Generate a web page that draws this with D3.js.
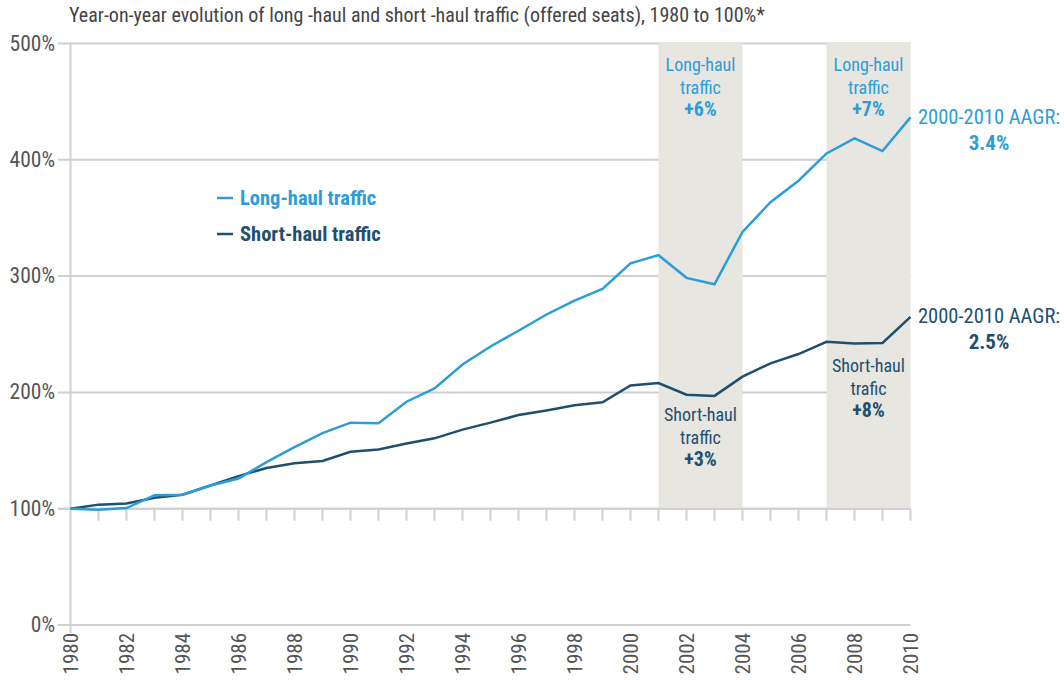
<!DOCTYPE html>
<html>
<head>
  <meta charset="utf-8">
  <title>Long-haul and short-haul traffic</title>
  <style>
    body { margin: 0; background: #fff; }
    svg text { font-family: "Liberation Sans Narrow", "Arial Narrow", "Roboto", sans-serif; font-stretch: condensed; }
  </style>
</head>
<body>
<script src="https://cdnjs.cloudflare.com/ajax/libs/d3/7.8.5/d3.min.js"></script>
<div id="vis"></div>
<script>

var years = d3.range(1980, 2011)
var longHaul = [100, 99, 100.5, 111.5, 112, 120, 126, 140, 153, 165, 174, 173.5, 192,
  203.5, 224, 239.5, 253, 267, 279, 289, 311, 318, 298.5, 293, 338, 363.5, 382, 405.5, 418.5, 407.5, 436.5]
var shortHaul = [100, 103.5, 104.5, 109.5, 112, 120, 128, 135, 139, 141, 149, 151, 156,
  160.5, 168, 174, 180.5, 184.5, 189, 191.5, 206, 208, 198, 197, 213.5, 225, 233, 243.5, 242, 242.5, 265]
var yTicks = [0, 100, 200, 300, 400, 500]
var yearTicks = d3.range(1980, 2011, 2)
var bands = [[2001, 2004], [2007, 2010]]

var lightBlue = "#2d9dd7", darkBlue = "#1e4f6e"

var w = 1064, h = 680
var svg = d3.select("#vis").append("svg").attr("width", w).attr("height", h)

var x = d3.scaleLinear().domain([1980, 2010]).range([70.5, 910.5])
var y = d3.scaleLinear().domain([0, 500]).range([625, 43.5])

svg.append("text").attr("x", 69).attr("y", 22)
  .style("font-size", "20px").style("fill", "#444")
  .text("Year-on-year evolution of long -haul and short -haul traffic (offered seats), 1980 to 100%*")

// gridlines
svg.selectAll("line.grid").data(yTicks).enter().append("line")
  .attr("class", "grid")
  .attr("x1", 58).attr("x2", x(2010))
  .attr("y1", function(d) { return y(d) }).attr("y2", function(d) { return y(d) })
  .style("stroke", "#cfcfcf").style("stroke-width", 2)

// shaded periods
svg.selectAll("rect.band").data(bands).enter().append("rect")
  .attr("class", "band")
  .attr("x", function(d) { return x(d[0]) })
  .attr("width", function(d) { return x(d[1]) - x(d[0]) })
  .attr("y", y(500) - 1)
  .attr("height", y(100) - y(500))
  .style("fill", "#e7e6e1")

// 100% line over the bands + year ticks
svg.append("line").attr("x1", 58).attr("x2", x(2010))
  .attr("y1", y(100)).attr("y2", y(100))
  .style("stroke", "#cfcfcf").style("stroke-width", 2)
svg.selectAll("line.yt").data(years.slice(1)).enter().append("line")
  .attr("class", "yt")
  .attr("x1", function(d) { return x(d) }).attr("x2", function(d) { return x(d) })
  .attr("y1", y(100)).attr("y2", y(100) + 12)
  .style("stroke", "#cfcfcf").style("stroke-width", 2)

// y axis line
svg.append("line").attr("x1", x(1980)).attr("x2", x(1980))
  .attr("y1", y(500) - 1).attr("y2", y(0) + 8)
  .style("stroke", "#cfcfcf").style("stroke-width", 2)

svg.selectAll("text.ylab").data(yTicks).enter().append("text")
  .attr("class", "ylab")
  .attr("x", 55).attr("y", function(d) { return y(d) + 7 })
  .attr("text-anchor", "end")
  .style("font-size", "21.5px").style("fill", "#555")
  .text(function(d) { return d + "%" })

svg.selectAll("text.xlab").data(yearTicks).enter().append("text")
  .attr("class", "xlab")
  .attr("transform", function(d) { return "translate(" + (x(d) + 7) + "," + 633 + ") rotate(-90)" })
  .attr("text-anchor", "end")
  .style("font-size", "21px").style("fill", "#555")
  .text(function(d) { return d })

// lines
var line = d3.line().x(function(d, i) { return x(years[i]) }).y(function(d) { return y(d) })
svg.append("path").datum(shortHaul).attr("d", line)
  .style("fill", "none").style("stroke", darkBlue).style("stroke-width", 2.5)
svg.append("path").datum(longHaul).attr("d", line)
  .style("fill", "none").style("stroke", lightBlue).style("stroke-width", 2.5)

// legend
var legend = [["Long-haul traffic", lightBlue], ["Short-haul traffic", darkBlue]]
svg.selectAll("line.leg").data(legend).enter().append("line")
  .attr("x1", 217).attr("x2", 233)
  .attr("y1", function(d, i) { return 198 + i * 36 }).attr("y2", function(d, i) { return 198 + i * 36 })
  .style("stroke", function(d) { return d[1] }).style("stroke-width", 2.5)
svg.selectAll("text.leg").data(legend).enter().append("text")
  .attr("x", 240).attr("y", function(d, i) { return 205 + i * 36 })
  .style("font-size", "20.5px").style("font-weight", "bold").style("fill", function(d) { return d[1] })
  .text(function(d) { return d[0] })

// band notes
function note(cx, top, lines, color) {
  var t = svg.append("text").attr("text-anchor", "middle").style("fill", color).style("font-size", "18px")
  lines.forEach(function(s, i) {
    var last = i == lines.length - 1
    t.append("tspan").attr("x", cx).attr("y", top + i * 22.5)
      .style("font-weight", last ? "bold" : "normal")
      .style("font-size", last ? "20px" : "18px").text(s)
  })
}
var c1 = (x(2001) + x(2004)) / 2, c2 = (x(2007) + x(2010)) / 2
note(c1, 71, ["Long-haul", "traffic", "+6%"], lightBlue)
note(c2, 71, ["Long-haul", "traffic", "+7%"], lightBlue)
note(c1, 421, ["Short-haul", "traffic", "+3%"], darkBlue)
note(c2, 372, ["Short-haul", "trafic", "+8%"], darkBlue)

// AAGR labels
function aagr(yy, val, color) {
  svg.append("text").attr("x", 918).attr("y", yy).style("font-size", "20.5px").style("fill", color).text("2000-2010 AAGR:")
  svg.append("text").attr("x", 989).attr("y", yy + 26).attr("text-anchor", "middle")
    .style("font-size", "21px").style("font-weight", "bold").style("fill", color).text(val)
}
aagr(124, "3.4%", lightBlue)
aagr(323, "2.5%", darkBlue)

</script>
</body>
</html>
